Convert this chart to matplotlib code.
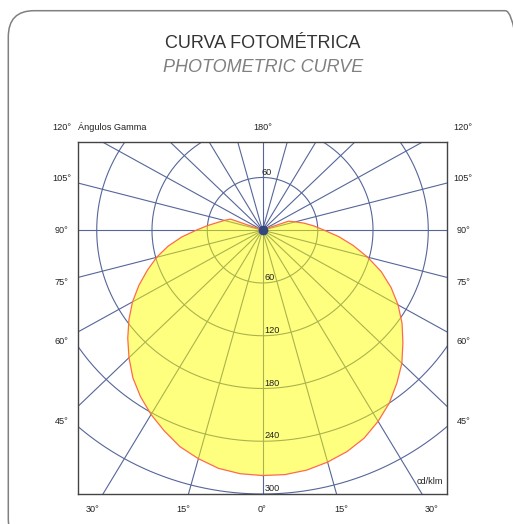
import matplotlib

matplotlib.use("Agg")
import matplotlib.pyplot as plt
import numpy as np
from matplotlib.patches import FancyBboxPatch

plt.rcParams["font.family"] = ["Liberation Sans", "DejaVu Sans"]

# --- data -----------------------------------------------------------------
# gamma angle from nadir (deg) and luminous intensity (cd/klm)
gamma = list(range(0, 181, 5))
left_cd = [279, 278, 275, 269, 262, 252, 242, 231, 219, 205, 191, 177, 163,
           148, 133, 119, 104, 88, 72, 60, 50, 43, 37, 3, 0,
           0, 0, 0, 0, 0, 0, 0, 0, 0, 0, 0, 0]
right_cd = [279, 279, 277, 273, 268, 261, 251, 240, 227, 214, 199, 185, 170,
            154, 137, 118, 100, 83, 67, 56, 46, 37, 30, 4, 0,
            0, 0, 0, 0, 0, 0, 0, 0, 0, 0, 0, 0]

rings = [60, 120, 180, 240, 300]
ring_labels_up = [60]
spoke_step = 15

side_labels = ["120°", "105°", "90°", "75°", "60°", "45°"]
side_label_y = [117, 59, 0, -59, -127, -218]
bottom_labels = ["30°", "15°", "0°", "15°", "30°"]
bottom_label_x = [-184, -86, 0, 86, 184]

GRID = "#56669a"
FONT_SMALL = 6.6

# --- figure -----------------------------------------------------------------
fig = plt.figure(figsize=(5.13, 5.24), dpi=100)
ax = fig.add_axes([78.3 / 513, 1 - 494 / 524, 368.4 / 513, 351.7 / 524])
ax.set_xlim(-200, 200)
ax.set_ylim(-300, 100)
ax.set_xticks([])
ax.set_yticks([])
for sp in ax.spines.values():
    sp.set_color("#444444")
    sp.set_linewidth(1.0)

# polar grid
t = np.linspace(0, 2 * np.pi, 721)
for r in rings:
    ax.plot(r * np.sin(t), r * np.cos(t), color=GRID, lw=0.8, zorder=1)
for a in np.deg2rad(np.arange(0, 360, spoke_step)):
    ax.plot([0, 700 * np.sin(a)], [0, -700 * np.cos(a)], color=GRID, lw=0.8, zorder=1)
ax.plot([0], [0], "o", ms=6, color="#34467e", zorder=4)

# photometric curve: left half then right half back to the centre
g = np.deg2rad(np.array(gamma))
lc = np.array(left_cd)
rc = np.array(right_cd)
xs = np.concatenate([-lc * np.sin(g), (rc * np.sin(g))[::-1]])
ys = np.concatenate([-lc * np.cos(g), (-rc * np.cos(g))[::-1]])
ax.fill(xs, ys, facecolor="#ffff00", alpha=0.5, edgecolor="none", zorder=2)
ax.plot(xs, ys, color="#ff6a4a", lw=0.9, zorder=3)

# ring value labels
for r in rings:
    ax.text(2, -r + 1, str(r), fontsize=FONT_SMALL, color="#222222",
            ha="left", va="bottom", zorder=5)
for r in ring_labels_up:
    ax.text(-1, r + 1, str(r), fontsize=FONT_SMALL, color="#222222",
            ha="left", va="bottom", zorder=5)
ax.text(196, -291, "cd/klm", fontsize=FONT_SMALL, color="#222222",
        ha="right", va="bottom", zorder=5)

# angle labels around the box
for lab, y in zip(side_labels, side_label_y):
    ax.text(-218, y, lab, fontsize=FONT_SMALL, color="#222222",
            ha="center", va="center", clip_on=False)
    ax.text(218, y, lab, fontsize=FONT_SMALL, color="#222222",
            ha="center", va="center", clip_on=False)
for lab, x in zip(bottom_labels, bottom_label_x):
    ax.text(x, -318, lab, fontsize=FONT_SMALL, color="#222222",
            ha="center", va="center", clip_on=False)
ax.text(0, 117, "180°", fontsize=FONT_SMALL, color="#222222",
        ha="center", va="center", clip_on=False)
ax.text(-200, 117, "Ángulos Gamma", fontsize=FONT_SMALL, color="#222222",
        ha="left", va="center", clip_on=False)

# titles
fig.text(0.513, 1 - 44 / 524, "CURVA FOTOMÉTRICA", fontsize=13,
         color="#333333", ha="center", va="center")
fig.text(0.513, 1 - 68 / 524, "PHOTOMETRIC CURVE", fontsize=13,
         color="#808080", style="italic", ha="center", va="center")

# rounded outer frame (right and bottom edges run off the canvas)
frame = FancyBboxPatch((8.3 / 513, -0.04), 1.035 - 8.3 / 513, 0.04 + 1 - 10.7 / 524,
                       boxstyle="round,pad=0,rounding_size=0.05",
                       transform=fig.transFigure, facecolor="none",
                       edgecolor="#808080", lw=1.1, clip_on=False)
fig.patches.append(frame)

fig.savefig("out.png", dpi=100)
plt.close(fig)
